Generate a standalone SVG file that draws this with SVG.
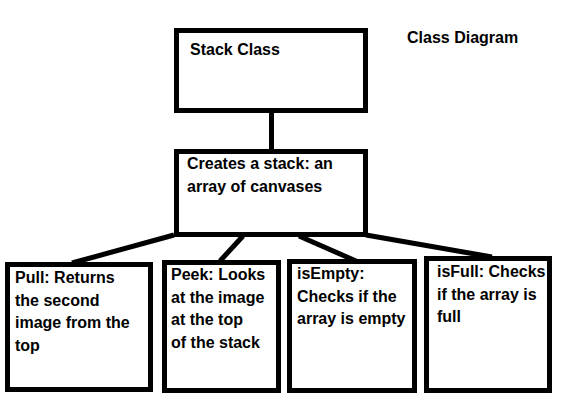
<svg xmlns="http://www.w3.org/2000/svg" width="577" height="411" viewBox="0 0 577 411">
<style>
.box{fill:#fff;stroke:#000;stroke-width:5}
.con{stroke:#000;stroke-width:5;fill:none;stroke-linecap:butt}
text{font-family:"Liberation Sans",Arial,sans-serif;font-weight:bold;font-size:16px;fill:#000}
</style>
<rect width="577" height="411" fill="#fff"/>
<g id="connectors">
<line class="con" x1="271.5" y1="110" x2="271.5" y2="150"/>
<line class="con" x1="174" y1="235" x2="72" y2="263"/>
<line class="con" x1="243" y1="236" x2="220" y2="261"/>
<line class="con" x1="299" y1="236" x2="356" y2="261"/>
<line class="con" x1="366" y1="235" x2="492" y2="257"/>
</g>
<g id="title"><text x="407" y="43">Class Diagram</text></g>
<g id="stack-class">
<rect class="box" x="176.5" y="30.5" width="189" height="80"/>
<text x="190" y="55">Stack Class</text>
</g>
<g id="creates">
<rect class="box" x="176.5" y="151.5" width="189" height="83"/>
<text x="187" y="169">Creates a stack: an</text>
<text x="187" y="192">array of canvases</text>
</g>
<g id="pull">
<rect class="box" x="7.5" y="264.5" width="143" height="125"/>
<text x="15" y="283">Pull: Returns</text>
<text x="15" y="306">the second</text>
<text x="15" y="328">image from the</text>
<text x="15" y="351">top</text>
</g>
<g id="peek">
<rect class="box" x="164.5" y="262.5" width="114" height="128"/>
<text x="171" y="280">Peek: Looks</text>
<text x="171" y="303">at the image</text>
<text x="171" y="325">at the top</text>
<text x="171" y="348">of the stack</text>
</g>
<g id="isempty">
<rect class="box" x="289.5" y="261.5" width="125" height="129"/>
<text x="297" y="279">isEmpty:</text>
<text x="297" y="302">Checks if the</text>
<text x="297" y="324">array is empty</text>
</g>
<g id="isfull">
<rect class="box" x="426.5" y="258.5" width="123" height="132"/>
<text x="437" y="277">isFull: Checks</text>
<text x="437" y="300">if the array is</text>
<text x="437" y="322">full</text>
</g>
</svg>
